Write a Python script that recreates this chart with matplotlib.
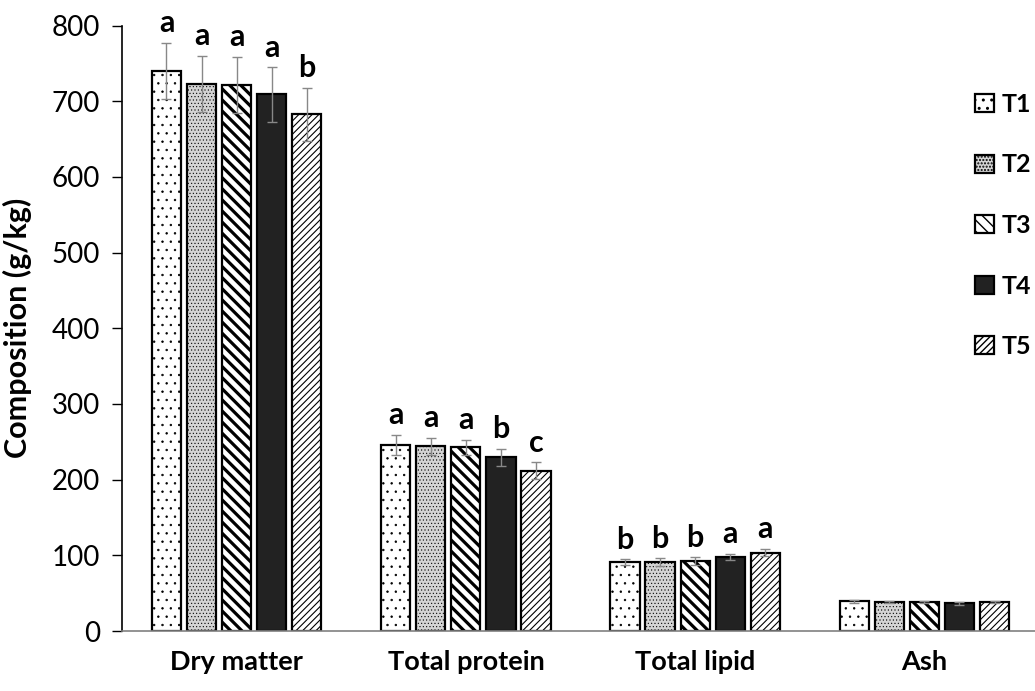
import matplotlib as mplt
mplt.use("Agg")
import matplotlib.pyplot as plt
import numpy as np

plt.rcParams['font.family'] = ['Lato', 'DejaVu Sans']

CATEGORIES = ['Dry matter', 'Total protein', 'Total lipid', 'Ash']
TREATMENTS = ['T1', 'T2', 'T3', 'T4', 'T5']

# mean composition (g/kg) per treatment, one value per category
T1 = [740, 246, 91, 39]
T2 = [723, 244, 91, 38]
T3 = [722, 243, 92.5, 38]
T4 = [709, 229.5, 98, 36.5]
T5 = [683, 212, 103.5, 38]

T1_ERR = [37, 13, 4, 1.5]
T2_ERR = [37, 11, 5, 1.5]
T3_ERR = [37, 10, 5, 1.5]
T4_ERR = [36, 11, 4, 1.5]
T5_ERR = [35, 11, 5, 1.5]

T1_SIG = ['a', 'a', 'b', '']
T2_SIG = ['a', 'a', 'b', '']
T3_SIG = ['a', 'a', 'b', '']
T4_SIG = ['a', 'b', 'a', '']
T5_SIG = ['b', 'c', 'a', '']

SERIES = [
    (T1, T1_ERR, T1_SIG),
    (T2, T2_ERR, T2_SIG),
    (T3, T3_ERR, T3_SIG),
    (T4, T4_ERR, T4_SIG),
    (T5, T5_ERR, T5_SIG),
]

# (facecolor, hatch, hatch linewidth) for each treatment
STYLES = [
    ('white',   '..',        0.5),
    ('#d4d4d4', '.....',     0.4),
    ('white',   '\\\\\\',    2.3),
    ('#222222', None,        1.0),
    ('white',   '/////',     0.8),
]

fig = plt.figure(figsize=(10.35, 6.91), dpi=100)
ax = fig.add_axes([122 / 1035, 60 / 691, 917 / 1035, 605.4 / 691])

x = np.arange(len(CATEGORIES))
pitch = 0.153
width = 0.127

handles = []
for i, ((vals, errs, sig), (fc, hatch, hlw)) in enumerate(zip(SERIES, STYLES)):
    pos = x + (i - 2) * pitch
    with plt.rc_context({'hatch.linewidth': hlw}):
        bars = ax.bar(pos, vals, width, facecolor=fc, edgecolor='black',
                      linewidth=1.6, hatch=hatch, label=TREATMENTS[i], zorder=2)
    ax.errorbar(pos, vals, yerr=errs, fmt='none', ecolor='#888888',
                elinewidth=1, capsize=3.5, capthick=1, zorder=3)
    for p, v, e, s in zip(pos, vals, errs, sig):
        if s:
            ax.annotate(s, (p, v + e), xytext=(0, 4), textcoords='offset points',
                        ha='center', va='bottom', fontsize=22, fontweight='bold')
    handles.append(bars)

ax.set_xlim(-0.5, 3.5)
ax.set_ylim(0, 800)
ax.set_yticks(np.arange(0, 801, 100))
ax.set_xticks(x)
ax.set_xticklabels(CATEGORIES, fontsize=19.5, fontweight='bold')
ax.tick_params(axis='x', length=0, pad=14)
ax.tick_params(axis='y', length=7, width=1, pad=9, labelsize=20)
ax.set_ylabel('Composition (g/kg)', fontsize=22, fontweight='bold')
ax.yaxis.set_label_coords(-0.098, 0.5)

for side in ['top', 'right']:
    ax.spines[side].set_visible(False)
ax.spines['left'].set_color('black')
ax.spines['left'].set_linewidth(1.2)
ax.spines['bottom'].set_color('#808080')
ax.spines['bottom'].set_linewidth(1.2)

fig.legend(handles=handles, labels=TREATMENTS, loc='upper left',
           bbox_to_anchor=(975 / 1035, 1 - 93 / 691), frameon=False,
           handlelength=0.75, handleheight=0.75, handletextpad=0.3,
           labelspacing=1.5, borderaxespad=0, borderpad=0,
           prop={'weight': 'bold', 'size': 18})

fig.savefig('out.png', dpi=100)
